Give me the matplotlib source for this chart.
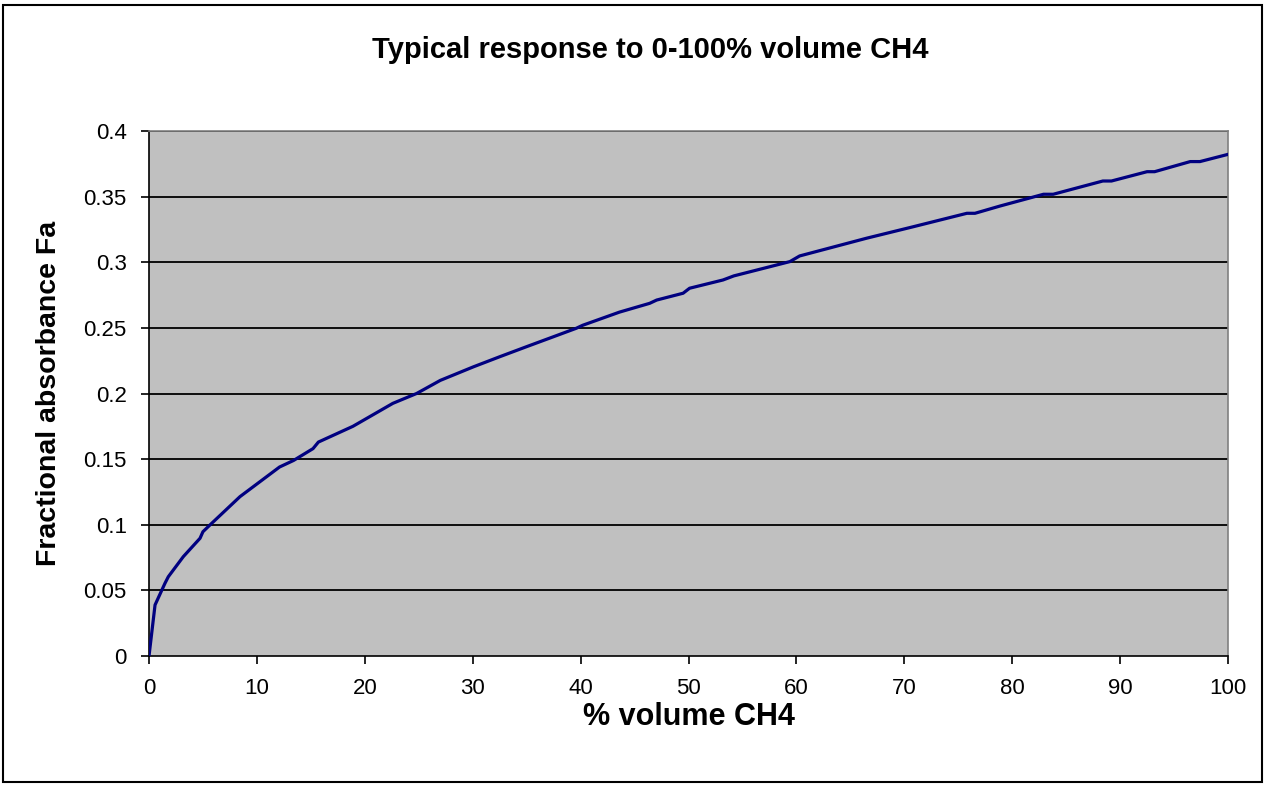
import matplotlib
matplotlib.use("Agg")
import matplotlib.pyplot as plt
from matplotlib.patches import Rectangle

# (% volume CH4 -> fractional absorbance)
pct_ch4 = [0.0, 0.56, 1.48, 1.79, 3.18, 4.73, 5.0, 5.8, 8.43, 12.1, 13.4, 15.2,
           15.7, 18.9, 22.6, 24.8, 27.0, 30.06, 32.5, 35.0, 37.5, 39.6, 40.2,
           43.6, 46.4, 47.05, 49.5, 50.1, 53.2, 54.2, 59.4, 60.3, 66.5, 70.8,
           75.8, 76.55, 78.9, 82.9, 83.8, 88.4, 89.2, 92.5, 93.2, 96.5, 97.4,
           100.0]
fa = [0.0, 0.0389, 0.0554, 0.0604, 0.0757, 0.0897, 0.0947, 0.101, 0.1214,
      0.144, 0.149, 0.158, 0.163, 0.175, 0.1925, 0.200, 0.210, 0.2203, 0.228,
      0.2357, 0.2433, 0.2497, 0.252, 0.262, 0.2687, 0.2712, 0.2764, 0.2802,
      0.2865, 0.2896, 0.3005, 0.3048, 0.3183, 0.327, 0.3373, 0.3373, 0.3429,
      0.3518, 0.3518, 0.3619, 0.3619, 0.369, 0.369, 0.3767, 0.3767, 0.3822]

x_ticks = [0, 10, 20, 30, 40, 50, 60, 70, 80, 90, 100]
y_ticks = [0, 0.05, 0.1, 0.15, 0.2, 0.25, 0.3, 0.35, 0.4]
y_tick_labels = ["0", "0.05", "0.1", "0.15", "0.2", "0.25", "0.3", "0.35", "0.4"]

plt.rcParams["font.family"] = ["Liberation Sans", "DejaVu Sans"]

W, H = 1264, 785
fig = plt.figure(figsize=(W / 100, H / 100), dpi=100)
ax = fig.add_axes([149 / W, 1 - 656 / H, (1228 - 149) / W, (656 - 131) / H])

ax.set_facecolor("#c0c0c0")
for y in y_ticks[1:]:
    ax.axhline(y, color="black", linewidth=1.3, zorder=1)
ax.plot(pct_ch4, fa, color="#000080", linewidth=2.3, zorder=3)

ax.set_xlim(0, 100)
ax.set_ylim(0, 0.4)
ax.set_xticks(x_ticks)
ax.set_yticks(y_ticks)
ax.set_yticklabels(y_tick_labels)
ax.tick_params(direction="out", length=6, width=1.2, labelsize=16)
ax.tick_params(axis="x", pad=10)
ax.tick_params(axis="y", pad=10)

for side in ("top", "right"):
    ax.spines[side].set_color("#808080")
    ax.spines[side].set_linewidth(1.2)
for side in ("left", "bottom"):
    ax.spines[side].set_color("black")
    ax.spines[side].set_linewidth(1.2)

ax.set_xlabel("% volume CH4", fontsize=22, fontweight="bold", va="center")
ax.set_ylabel("Fractional absorbance Fa", fontsize=20.5, fontweight="bold", va="center")
ax.xaxis.set_label_coords(0.5, (656 - 717) / 525)
ax.yaxis.set_label_coords((49 - 149) / 1079, 0.5)

fig.text(650 / W, 1 - 50 / H, "Typical response to 0-100% volume CH4",
         ha="center", va="center", fontsize=21, fontweight="bold")

fig.patches.append(Rectangle((3 / W, 3 / H), 1 - 5 / W, 1 - 8 / H,
                             transform=fig.transFigure, fill=False,
                             edgecolor="black", linewidth=1.5))

fig.savefig("out.png", dpi=100)
